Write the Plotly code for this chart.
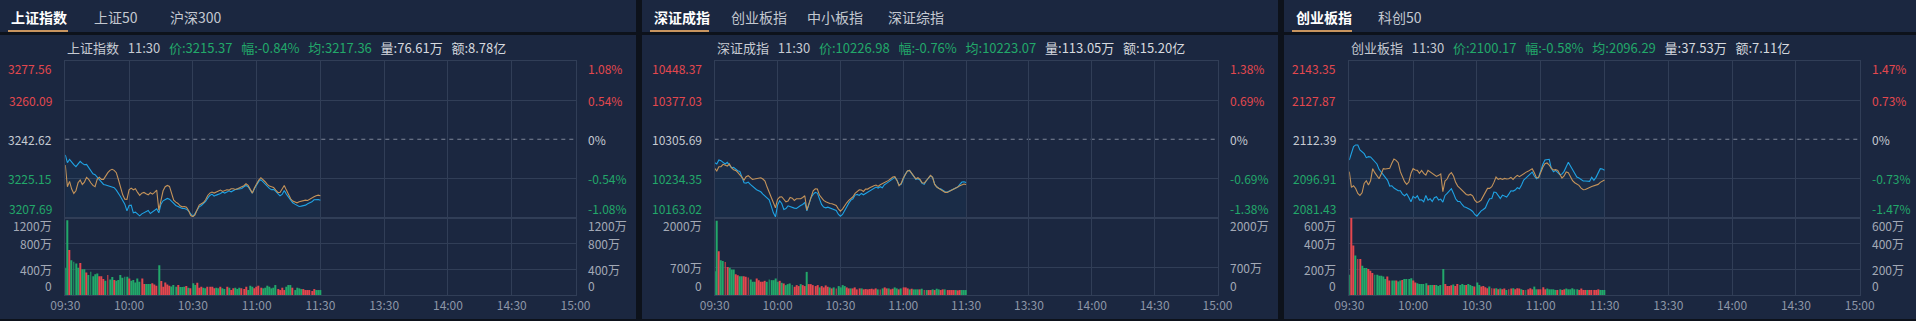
import plotly.graph_objects as go

# ---------------- data ----------------
minutes = list(range(121))  # 09:30 .. 11:30, one point per minute
time_ticks = [0, 30, 60, 90, 120, 150, 180, 210, 240]
time_labels = ['09:30', '10:00', '10:30', '11:00', '11:30', '13:30', '14:00', '14:30', '15:00']

# ---- 上证指数 ----
sh_name = '上证指数'
sh_tabs = ['上证指数', '上证50', '沪深300']
sh_price_ticks = [3207.69, 3225.15, 3242.62, 3260.09, 3277.56]
sh_pct_labels = ['-1.08%', '-0.54%', '0%', '0.54%', '1.08%']
sh_vol_ticks = [0, 400, 800, 1200]
sh_vol_labels = ['0', '400万', '800万', '1200万']
sh_header = ['11:30', '3215.37', '-0.84%', '3217.36', '76.61万', '8.78亿']
sh_price = [
    3235.60, 3232.17, 3233.66, 3232.17, 3231.27, 3230.38, 3231.57, 3232.76, 3231.87, 3231.27,
    3231.42, 3230.08, 3228.43, 3227.24, 3226.79, 3225.75, 3224.40, 3223.21, 3222.46, 3222.16,
    3221.87, 3221.57, 3221.42, 3220.97, 3219.92, 3218.58, 3216.94, 3215.30, 3213.65, 3210.67,
    3213.06, 3213.21, 3209.77, 3210.07, 3209.17, 3208.43, 3209.32, 3209.92, 3210.37, 3210.82,
    3209.47, 3210.22, 3210.82, 3211.56, 3209.77, 3213.65, 3215.15, 3215.74, 3216.19, 3215.89,
    3214.85, 3213.95, 3213.06, 3212.61, 3212.16, 3211.71, 3211.71, 3211.41, 3210.52, 3209.03,
    3208.13, 3209.47, 3211.12, 3212.46, 3213.06, 3213.95, 3214.85, 3216.34, 3217.54, 3218.13,
    3217.24, 3217.68, 3217.98, 3218.43, 3219.03, 3218.58, 3219.03, 3219.63, 3219.18, 3219.78,
    3220.22, 3220.37, 3220.52, 3220.67, 3221.42, 3222.01, 3221.42, 3219.92, 3218.58, 3220.67,
    3222.46, 3223.81, 3224.55, 3223.51, 3222.46, 3221.57, 3220.67, 3220.07, 3220.22, 3219.33,
    3218.13, 3217.39, 3217.98, 3219.78, 3218.13, 3216.64, 3215.30, 3214.25, 3213.65, 3213.21,
    3212.61, 3212.76, 3212.91, 3213.21, 3213.80, 3214.10, 3214.70, 3215.59, 3215.74, 3215.74,
    3215.37]
sh_avg = [
    3231.12, 3221.42, 3223.81, 3220.37, 3218.43, 3219.63, 3223.21, 3224.40, 3222.46, 3223.51,
    3225.60, 3224.70, 3223.21, 3222.01, 3221.42, 3224.70, 3225.60, 3224.70, 3224.70, 3226.34,
    3227.69, 3228.73, 3229.18, 3228.73, 3227.69, 3224.55, 3220.82, 3217.83, 3215.89, 3215.74,
    3220.07, 3220.82, 3220.07, 3220.52, 3218.88, 3217.54, 3218.58, 3218.88, 3218.28, 3217.83,
    3218.73, 3218.13, 3218.88, 3219.92, 3210.97, 3215.45, 3219.63, 3221.42, 3222.01, 3221.57,
    3218.13, 3215.45, 3214.55, 3213.95, 3212.91, 3212.46, 3212.61, 3212.31, 3210.82, 3208.58,
    3208.13, 3208.88, 3211.12, 3213.21, 3213.80, 3214.40, 3215.59, 3217.54, 3218.58, 3219.03,
    3218.58, 3219.03, 3219.48, 3219.92, 3219.33, 3219.63, 3220.07, 3219.92, 3220.52, 3220.52,
    3220.22, 3220.52, 3220.82, 3221.42, 3221.87, 3222.76, 3222.01, 3220.22, 3218.58, 3220.97,
    3222.91, 3224.40, 3225.45, 3224.70, 3223.66, 3222.46, 3221.72, 3221.42, 3221.12, 3219.92,
    3218.88, 3218.88, 3220.37, 3222.01, 3219.92, 3217.54, 3216.04, 3215.00, 3214.55, 3214.25,
    3214.70, 3215.00, 3215.30, 3215.45, 3215.30, 3215.89, 3216.64, 3216.94, 3217.39, 3217.68,
    3217.36]
sh_vol = [
    420, 1159, 698, 538, 513, 487, 420, 497, 400, 400,
    349, 308, 359, 292, 323, 333, 292, 292, 246, 221,
    308, 241, 277, 231, 221, 231, 308, 267, 282, 282,
    256, 221, 231, 195, 256, 205, 256, 169, 169, 169,
    169, 180, 164, 144, 462, 215, 128, 195, 164, 144,
    133, 154, 128, 154, 123, 123, 128, 138, 113, 103,
    180, 154, 190, 113, 128, 113, 103, 128, 128, 128,
    103, 113, 103, 128, 103, 92, 128, 113, 77, 103,
    113, 92, 113, 103, 92, 128, 77, 144, 128, 103,
    128, 144, 113, 103, 113, 144, 128, 103, 113, 154,
    92, 77, 113, 77, 128, 154, 154, 113, 77, 113,
    103, 92, 92, 77, 77, 77, 62, 92, 77, 77,
    77]
sh_dir = ('GGRGGGGRGG RGGGGGRRRG RGGRGGGGGG RGGGGGRRGG GRRRGRRRRR '
          'GGGRGGGRGR GGRRRGGRRR RGGRGGRGRR GGGRRRGGGR RRRGGGGGGG '
          'RRRRGGGRGG GGRRRRRRGG G')

# ---- 深证成指 ----
sz_name = '深证成指'
sz_tabs = ['深证成指', '创业板指', '中小板指', '深证综指']
sz_price_ticks = [10163.02, 10234.35, 10305.69, 10377.03, 10448.37]
sz_pct_labels = ['-1.38%', '-0.69%', '0%', '0.69%', '1.38%']
sz_vol_ticks = [0, 700, 2000]
sz_vol_labels = ['0', '700万', '2000万']
sz_header = ['11:30', '10226.98', '-0.76%', '10223.07', '113.05万', '15.20亿']
sz_price = [
    10263.01, 10260.57, 10267.88, 10266.66, 10263.62, 10260.57, 10263.62, 10257.52, 10253.86, 10254.47,
    10250.81, 10248.37, 10247.15, 10236.18, 10226.42, 10225.81, 10227.64, 10223.38, 10219.72, 10215.45,
    10213.62, 10211.79, 10209.96, 10205.69, 10202.65, 10198.38, 10195.33, 10183.74, 10171.55, 10164.23,
    10185.57, 10193.50, 10188.62, 10177.65, 10179.48, 10184.35, 10182.53, 10180.70, 10180.09, 10179.48,
    10183.14, 10184.96, 10186.79, 10190.45, 10175.21, 10189.84, 10199.60, 10205.08, 10208.74, 10207.52,
    10195.94, 10186.79, 10181.92, 10180.70, 10181.92, 10180.70, 10178.87, 10177.65, 10175.82, 10169.11,
    10165.45, 10168.50, 10176.43, 10184.35, 10189.23, 10194.72, 10197.16, 10203.86, 10205.08, 10203.26,
    10206.91, 10204.47, 10206.91, 10209.96, 10211.79, 10213.62, 10216.67, 10218.50, 10216.67, 10219.11,
    10217.28, 10222.77, 10225.20, 10227.64, 10230.08, 10233.74, 10236.18, 10231.30, 10222.16, 10223.38,
    10234.35, 10242.28, 10247.76, 10248.98, 10243.50, 10237.40, 10232.52, 10233.74, 10231.30, 10225.20,
    10223.38, 10230.08, 10234.35, 10239.23, 10236.18, 10223.99, 10219.11, 10216.06, 10214.84, 10212.40,
    10209.96, 10209.35, 10211.18, 10213.01, 10214.84, 10216.06, 10218.50, 10223.38, 10227.64, 10228.25,
    10226.98]
sz_avg = [
    10252.64, 10247.76, 10255.69, 10255.69, 10259.96, 10258.74, 10256.91, 10260.57, 10253.86, 10250.20,
    10248.98, 10245.32, 10241.67, 10236.18, 10231.30, 10237.40, 10239.23, 10235.57, 10232.52, 10233.13,
    10234.35, 10235.57, 10235.57, 10233.13, 10229.47, 10218.50, 10208.74, 10200.82, 10189.84, 10180.70,
    10195.94, 10200.21, 10200.82, 10196.55, 10191.67, 10192.89, 10199.60, 10198.38, 10194.11, 10197.16,
    10196.55, 10197.16, 10199.60, 10202.65, 10176.43, 10188.62, 10203.86, 10211.79, 10215.45, 10214.84,
    10203.86, 10197.77, 10194.11, 10191.67, 10189.84, 10188.62, 10188.01, 10186.79, 10184.96, 10178.87,
    10174.60, 10178.26, 10184.96, 10189.84, 10194.11, 10197.77, 10200.82, 10206.91, 10211.18, 10213.62,
    10213.01, 10210.57, 10214.84, 10214.84, 10217.28, 10219.72, 10220.94, 10222.16, 10219.72, 10222.77,
    10224.59, 10227.03, 10228.86, 10230.69, 10233.74, 10236.79, 10237.40, 10230.69, 10220.94, 10225.20,
    10234.96, 10242.28, 10247.76, 10248.98, 10243.50, 10237.40, 10233.74, 10235.57, 10232.52, 10226.42,
    10225.81, 10230.08, 10234.35, 10239.84, 10236.18, 10223.38, 10218.50, 10216.06, 10214.23, 10211.18,
    10208.74, 10208.74, 10210.57, 10213.01, 10214.84, 10215.45, 10218.50, 10220.94, 10222.77, 10223.99,
    10223.07]
sz_vol = [
    613, 1915, 1132, 894, 877, 851, 723, 706, 655, 655,
    536, 511, 485, 485, 485, 468, 451, 400, 340, 340,
    426, 383, 340, 340, 366, 340, 400, 383, 383, 426,
    340, 366, 315, 298, 255, 281, 298, 255, 213, 255,
    230, 281, 255, 230, 596, 281, 281, 255, 230, 255,
    196, 230, 196, 247, 213, 196, 170, 196, 170, 230,
    196, 255, 230, 196, 170, 170, 170, 196, 145, 170,
    170, 145, 153, 145, 153, 162, 145, 170, 145, 145,
    170, 196, 170, 170, 145, 162, 196, 170, 145, 170,
    196, 196, 170, 145, 162, 145, 145, 145, 145, 162,
    128, 128, 128, 128, 145, 128, 162, 145, 128, 145,
    145, 128, 128, 128, 128, 128, 119, 128, 128, 128,
    128]
sz_dir = ('GGRGGRRGGG RRGGRRRGGG RRRRRGGGGG GRGRGGGGRR RGRRGRRRRR '
          'GRRRRGRGRG GGGRRGRRRR GRRRRRRRGR GRRGRRGGRG RRRGRGGGRG '
          'RGRRGRGGRR GRRRRGRRGG G')

# ---- 创业板指 ----
cy_name = '创业板指'
cy_tabs = ['创业板指', '科创50']
cy_price_ticks = [2081.43, 2096.91, 2112.39, 2127.87, 2143.35]
cy_pct_labels = ['-1.47%', '-0.73%', '0%', '0.73%', '1.47%']
cy_vol_ticks = [0, 200, 400, 600]
cy_vol_labels = ['0', '200万', '400万', '600万']
cy_header = ['11:30', '2100.17', '-0.58%', '2096.29', '37.53万', '7.11亿']
cy_price = [
    2104.19, 2106.83, 2109.48, 2110.14, 2110.14, 2108.16, 2107.49, 2106.70, 2105.11, 2105.51,
    2105.38, 2104.32, 2103.26, 2102.60, 2100.48, 2099.42, 2098.63, 2097.57, 2096.12, 2093.87,
    2094.00, 2093.07, 2092.54, 2092.01, 2092.01, 2090.69, 2090.03, 2090.82, 2089.37, 2087.65,
    2089.77, 2089.10, 2090.03, 2088.31, 2088.44, 2087.65, 2090.16, 2088.31, 2088.84, 2087.78,
    2089.24, 2089.63, 2088.31, 2088.71, 2087.52, 2090.16, 2090.96, 2091.75, 2092.81, 2090.96,
    2088.84, 2087.78, 2087.78, 2086.59, 2085.66, 2085.40, 2085.00, 2084.47, 2083.81, 2082.62,
    2081.96, 2083.15, 2084.08, 2084.61, 2085.27, 2087.25, 2088.84, 2088.97, 2091.49, 2091.35,
    2090.16, 2088.97, 2090.29, 2090.03, 2089.50, 2090.69, 2092.01, 2091.88, 2092.28, 2093.21,
    2092.81, 2094.26, 2096.25, 2097.04, 2097.84, 2098.76, 2099.42, 2097.84, 2096.78, 2097.31,
    2100.22, 2102.47, 2104.19, 2104.45, 2104.45, 2100.88, 2099.56, 2100.09, 2099.16, 2098.37,
    2098.63, 2099.69, 2101.54, 2103.26, 2101.81, 2100.22, 2098.63, 2097.44, 2097.04, 2096.51,
    2095.85, 2095.85, 2095.72, 2095.72, 2097.31, 2096.12, 2097.31, 2099.16, 2100.75, 2100.61,
    2100.17]
cy_avg = [
    2099.56, 2093.34, 2094.00, 2092.94, 2090.96, 2090.16, 2091.22, 2094.93, 2095.98, 2094.26,
    2095.98, 2100.75, 2099.16, 2097.84, 2096.78, 2098.63, 2100.75, 2100.61, 2100.88, 2100.88,
    2102.86, 2104.58, 2104.05, 2103.13, 2099.56, 2097.57, 2095.59, 2094.53, 2095.45, 2098.89,
    2100.75, 2100.22, 2100.09, 2098.89, 2100.09, 2098.89, 2098.23, 2100.09, 2099.42, 2099.03,
    2098.10, 2097.70, 2098.10, 2098.63, 2091.62, 2095.85, 2096.65, 2098.37, 2099.16, 2097.84,
    2095.32, 2093.87, 2093.07, 2092.15, 2091.35, 2090.56, 2090.29, 2090.56, 2090.03, 2088.31,
    2087.38, 2087.65, 2088.31, 2089.77, 2091.49, 2092.94, 2092.94, 2093.60, 2095.32, 2097.44,
    2096.51, 2096.91, 2096.51, 2096.91, 2096.65, 2096.78, 2097.31, 2096.51, 2097.44, 2098.10,
    2097.57, 2098.23, 2098.63, 2099.29, 2099.69, 2100.22, 2100.75, 2099.16, 2097.17, 2097.17,
    2099.56, 2101.28, 2102.73, 2103.00, 2102.20, 2100.88, 2100.22, 2100.35, 2100.09, 2098.50,
    2097.04, 2097.84, 2099.42, 2099.16, 2097.31, 2095.98, 2095.19, 2094.79, 2094.13, 2093.07,
    2092.41, 2092.54, 2092.81, 2093.34, 2093.73, 2094.00, 2094.13, 2094.53, 2095.32, 2095.85,
    2096.29]
cy_vol = [
    157, 600, 384, 305, 279, 279, 227, 209, 209, 201,
    188, 170, 157, 157, 149, 149, 143, 123, 143, 112,
    112, 112, 112, 104, 112, 117, 123, 123, 123, 130,
    112, 97, 91, 86, 86, 86, 91, 76, 78, 78,
    78, 78, 70, 78, 201, 86, 70, 70, 76, 81,
    70, 86, 78, 86, 78, 78, 86, 78, 70, 65,
    97, 78, 65, 70, 60, 52, 65, 52, 50, 52,
    44, 50, 44, 50, 39, 44, 50, 52, 44, 52,
    50, 44, 39, 39, 44, 52, 44, 65, 44, 44,
    44, 60, 44, 50, 44, 44, 44, 39, 39, 44,
    39, 44, 50, 44, 44, 52, 44, 44, 39, 50,
    39, 39, 39, 39, 39, 39, 39, 44, 39, 39,
    39]
cy_dir = ('GRRGRRGGGR RRGGGGGGRR GGRGGRGGGG RRGGGGGRGG RGGGGRRRRG '
          'RRGGGRGGGR GGRRRRGRRG RGRRGRRGRR RGRGRRRGGR RRRGGGGGRG '
          'RRGGGGGGRR RRGRRRRRGG G')

# ---------------- style ----------------
W, H = 1916, 321
GAP_BG = '#0d121b'
PANEL_BG = '#1b2740'
GRID = '#313e57'
DASH = '#7f8798'
RED = '#e4474e'
GREEN = '#22a86a'
BLUE = '#1fa3e4'
TAN = '#c4935a'
UNDERLINE = '#c9955f'
TXT = '#c6cad2'
TXT2 = '#d6d9df'
AXTXT = '#a3a9b6'
XTXT = '#8d96a7'
FONT = 'Noto Sans CJK SC, Microsoft YaHei, sans-serif'

# panel geometry in pixels
geo = [
    dict(x0=0, x1=636, L=65.3, R=575.5, tabx=[9, 92, 168], ul=(8, 68)),
    dict(x0=642, x1=1278, L=714.7, R=1217.5, tabx=[652, 728.6, 804.5, 886], ul=(650, 709)),
    dict(x0=1284, x1=1916, L=1349.3, R=1859.7, tabx=[1294.4, 1376], ul=(1292, 1352)),
]
Y_PRICE_TOP, Y_SPLIT, Y_VOL_BOT = 61, 217.5, 295

panels = [
    dict(name=sh_name, tabs=sh_tabs, ticks=sh_price_ticks, pct=sh_pct_labels, vt=sh_vol_ticks,
         vl=sh_vol_labels, hdr=sh_header, price=sh_price, avg=sh_avg, vol=sh_vol, d=sh_dir),
    dict(name=sz_name, tabs=sz_tabs, ticks=sz_price_ticks, pct=sz_pct_labels, vt=sz_vol_ticks,
         vl=sz_vol_labels, hdr=sz_header, price=sz_price, avg=sz_avg, vol=sz_vol, d=sz_dir),
    dict(name=cy_name, tabs=cy_tabs, ticks=cy_price_ticks, pct=cy_pct_labels, vt=cy_vol_ticks,
         vl=cy_vol_labels, hdr=cy_header, price=cy_price, avg=cy_avg, vol=cy_vol, d=cy_dir),
]


def fx(px):
    return px / W


def fy(py):
    return 1 - py / H


def sfx(n):
    return '' if n == 1 else str(n)


def yshift_for(anchor):
    return 3 if anchor == 'top' else (-1 if anchor == 'bottom' else 0)


fig = go.Figure()
layout = {}
shapes = []
annotations = []
NB = '\u00a0\u00a0\u00a0'

for i, (p, g) in enumerate(zip(panels, geo)):
    npx, nvol = 2 * i + 1, 2 * i + 2
    xp, yp = 'x' + sfx(npx), 'y' + sfx(npx)
    xv, yv = 'x' + sfx(nvol), 'y' + sfx(nvol)
    pre_close = p['ticks'][2]

    # panel background + tab separator + bottom edge
    shapes.append(dict(type='rect', xref='paper', yref='paper', x0=fx(g['x0']), x1=fx(g['x1']),
                       y0=0, y1=1, fillcolor=PANEL_BG, line_width=0, layer='below'))
    shapes.append(dict(type='rect', xref='paper', yref='paper', x0=fx(g['x0']), x1=fx(g['x1']),
                       y0=fy(35), y1=fy(32), fillcolor=GAP_BG, line_width=0, layer='below'))
    shapes.append(dict(type='rect', xref='paper', yref='paper', x0=fx(g['x0']), x1=fx(g['x1']),
                       y0=0, y1=fy(319), fillcolor=GAP_BG, line_width=0, layer='below'))
    # active tab underline
    shapes.append(dict(type='rect', xref='paper', yref='paper', x0=fx(g['ul'][0]), x1=fx(g['ul'][1]),
                       y0=fy(32), y1=fy(30), fillcolor=UNDERLINE, line_width=0, layer='above'))
    # pre-close dashed line
    shapes.append(dict(type='line', xref=xp + ' domain', yref=yp, x0=0, x1=1, y0=pre_close, y1=pre_close,
                       line=dict(color=DASH, width=1, dash='4px,4px'), layer='below'))

    # tabs
    for k, (t, tx) in enumerate(zip(p['tabs'], g['tabx'])):
        annotations.append(dict(xref='paper', yref='paper', x=fx(tx), y=fy(17), xanchor='left',
                                yanchor='middle', showarrow=False,
                                text=('<b>%s</b>' % t) if k == 0 else t,
                                font=dict(size=14, color='#ffffff' if k == 0 else '#c3c8d0')))

    # header
    h = p['hdr']
    chg_col = RED if not h[2].startswith('-') else GREEN
    header = ("<span style='color:%s'>%s%s%s</span>%s<span style='color:%s'>价:%s%s幅:%s%s均:%s</span>"
              "%s<span style='color:%s'>量:%s%s额:%s</span>") % (
        TXT, p['name'], NB, h[0], NB, chg_col, h[1], NB, h[2], NB, h[3], NB, TXT2, h[4], NB, h[5])
    annotations.append(dict(xref='paper', yref='paper', x=fx(g['L']), y=fy(47.5), xanchor='left',
                            yanchor='middle', showarrow=False, text=header, font=dict(size=13)))

    # price axis labels
    for k, v in enumerate(p['ticks']):
        col = RED if k > 2 else (TXT if k == 2 else GREEN)
        ya = 'top' if k == 4 else ('bottom' if k == 0 else 'middle')
        annotations.append(dict(xref='paper', yref=yp, x=fx(g['L'] - 11), y=v, xanchor='right',
                                yanchor=ya, yshift=yshift_for(ya), showarrow=False, text='%.2f' % v,
                                font=dict(size=12, color=col)))
        annotations.append(dict(xref='paper', yref=yp, x=fx(g['R'] + 10), y=v, xanchor='left',
                                yanchor=ya, yshift=yshift_for(ya), showarrow=False, text=p['pct'][k],
                                font=dict(size=12, color=col)))
    # volume axis labels
    nvt = len(p['vt'])
    for k, (v, lab) in enumerate(zip(p['vt'], p['vl'])):
        ya = 'top' if k == nvt - 1 else ('bottom' if k == 0 else 'middle')
        for xpix, xa in ((g['L'] - 11, 'right'), (g['R'] + 10, 'left')):
            annotations.append(dict(xref='paper', yref=yv, x=fx(xpix), y=v, xanchor=xa,
                                    yanchor=ya, yshift=yshift_for(ya), showarrow=False, text=lab,
                                    font=dict(size=12, color=AXTXT)))

    # traces
    fig.add_trace(go.Scatter(x=minutes, y=p['price'], mode='lines', xaxis=xp, yaxis=yp,
                             line=dict(color=BLUE, width=1.1), fill='tozeroy',
                             fillcolor='rgba(31,163,228,0.045)', hoverinfo='skip'))
    fig.add_trace(go.Scatter(x=minutes, y=p['avg'], mode='lines', xaxis=xp, yaxis=yp,
                             line=dict(color=TAN, width=1.1), hoverinfo='skip'))
    dirs = p['d'].replace(' ', '')
    colors = [RED if c == 'R' else GREEN for c in dirs]
    fig.add_trace(go.Bar(x=minutes, y=p['vol'], xaxis=xv, yaxis=yv, width=0.45,
                         marker=dict(color=colors, line=dict(width=0)), hoverinfo='skip'))

    xcommon = dict(range=[0, 240], tickvals=time_ticks, showgrid=True, gridcolor=GRID, gridwidth=1,
                   zeroline=False, showline=True, linecolor=GRID, linewidth=1, mirror=True,
                   fixedrange=True, automargin=False, domain=[fx(g['L']), fx(g['R'])])
    layout['xaxis' + sfx(npx)] = dict(xcommon, anchor=yp, showticklabels=False)
    layout['xaxis' + sfx(nvol)] = dict(xcommon, anchor=yv, showticklabels=True, ticktext=time_labels,
                                       ticks='', tickfont=dict(size=12, color=XTXT))
    layout['yaxis' + sfx(npx)] = dict(domain=[fy(Y_SPLIT), fy(Y_PRICE_TOP)],
                                      range=[p['ticks'][0], p['ticks'][4]],
                                      tickvals=[p['ticks'][1], p['ticks'][3]], showgrid=True,
                                      gridcolor=GRID, showticklabels=False, zeroline=False,
                                      showline=True, linecolor=GRID, mirror=True, anchor=xp,
                                      fixedrange=True, automargin=False)
    layout['yaxis' + sfx(nvol)] = dict(domain=[fy(Y_VOL_BOT), fy(Y_SPLIT)],
                                       range=[0, p['vt'][-1]], tickvals=p['vt'][1:-1], showgrid=True,
                                       gridcolor=GRID, showticklabels=False, zeroline=False,
                                       showline=True, linecolor=GRID, mirror=True, anchor=xv,
                                       fixedrange=True, automargin=False)

fig.update_layout(
    width=W, height=H, margin=dict(l=0, r=0, t=0, b=0, pad=0, autoexpand=False),
    paper_bgcolor=GAP_BG, plot_bgcolor=PANEL_BG,
    showlegend=False, font=dict(family=FONT, size=12, color=TXT),
    shapes=shapes, annotations=annotations, **layout)

fig.write_html('out.html', config={'displayModeBar': False},
               post_script="document.body.style.margin='0';document.body.style.padding='0';"
                           "document.body.style.overflow='hidden';")
